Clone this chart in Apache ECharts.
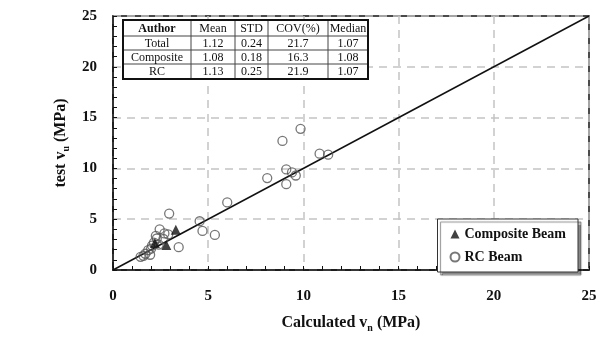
<!DOCTYPE html>
<html><head><meta charset="utf-8">
<script src="https://cdn.jsdelivr.net/npm/echarts@6/dist/echarts.min.js"></script>
<style>html,body{margin:0;padding:0;background:#fff}#c{width:604px;height:338px}</style>
</head><body><div id="c"></div>
<script>
var compositeBeam = [[3.3,3.95],[2.8,2.45],[2.2,2.65]];
var rcBeam = [[9.85,13.9],[8.9,12.7],[10.85,11.45],[11.3,11.35],[9.1,9.9],[9.4,9.6],[9.6,9.3],[8.1,9.05],[9.1,8.45],[6.0,6.65],[4.55,4.8],[4.7,3.85],[5.35,3.45],[2.95,5.55],[2.45,4.0],[2.9,3.5],[3.45,2.25],[2.3,3.1],[2.65,3.05],[2.05,2.4],[2.4,2.5],[1.85,1.95],[1.95,1.5],[1.45,1.3],[1.7,1.6],[2.15,2.7],[2.7,3.6],[2.25,3.35],[1.6,1.4],[2.0,2.1]];
var equalityLine = [[0,0],[25,25]];
var tableHeader = ['Author','Mean','STD','COV(%)','Median'];
var tableRows = [
  ['Total','1.12','0.24','21.7','1.07'],
  ['Composite','1.08','0.18','16.3','1.08'],
  ['RC','1.13','0.25','21.9','1.07']
];
var axisTicks = [0,5,10,15,20,25];

var FONT = '"Liberation Serif","Times New Roman",serif';
var colX = [123,191,235,268,328,368];
var rowY = [20,36,50,64,79];
var children = [];
children.push({type:'rect', shape:{x:colX[0],y:rowY[0],width:colX[5]-colX[0],height:rowY[4]-rowY[0]}, style:{fill:'#fff',stroke:'none'}, z:100});
for (var i=1;i<colX.length-1;i++) children.push({type:'line', shape:{x1:colX[i],y1:rowY[0],x2:colX[i],y2:rowY[4]}, style:{stroke:'#444',lineWidth:1}, z:101});
for (var j=1;j<rowY.length-1;j++) children.push({type:'line', shape:{x1:colX[0],y1:rowY[j],x2:colX[5],y2:rowY[j]}, style:{stroke:'#444',lineWidth:1}, z:101});
children.push({type:'rect', shape:{x:colX[0],y:rowY[0],width:colX[5]-colX[0],height:rowY[4]-rowY[0]}, style:{fill:'none',stroke:'#111',lineWidth:2}, z:102});
var allRows = [tableHeader].concat(tableRows);
allRows.forEach(function(row, r){
  row.forEach(function(txt, c){
    children.push({type:'text', z:103, style:{text:txt, x:(colX[c]+colX[c+1])/2, y:(rowY[r]+rowY[r+1])/2+0.5, textAlign:'center', textVerticalAlign:'middle', font:(r===0&&c===0?'bold ':'')+'12px '+FONT, fill:'#111'}});
  });
});

var chart = echarts.init(document.getElementById('c'));
chart.setOption({
  animation:false,
  backgroundColor:'#fff',
  grid:{left:113,right:15,top:16,bottom:63,show:true,borderColor:'#111',borderWidth:1.5,backgroundColor:'transparent'},
  xAxis:{type:'value',min:axisTicks[0],max:axisTicks[axisTicks.length-1],interval:5,
    name:'{a|Calculated v}{s|n}{a| (MPa)}',nameLocation:'middle',nameGap:43,
    nameTextStyle:{rich:{a:{fontFamily:FONT,fontWeight:'bold',fontSize:16,color:'#111',lineHeight:20},s:{fontFamily:FONT,fontWeight:'bold',fontSize:10,color:'#111',verticalAlign:'bottom',lineHeight:14,padding:[6,0,0,0]}}},
    axisLine:{lineStyle:{color:'#111',width:1.5}},
    axisTick:{inside:true,length:4,lineStyle:{color:'#111'}},
    minorTick:{show:true,splitNumber:5,length:4,lineStyle:{color:'#111'}},
    axisLabel:{fontFamily:FONT,fontWeight:'bold',fontSize:15,color:'#111',margin:19},
    splitLine:{show:true,lineStyle:{color:'#c4c4c4',type:[8,6],width:1.5}}},
  yAxis:{type:'value',min:axisTicks[0],max:axisTicks[axisTicks.length-1],interval:5,
    name:'{a|test v}{s|u}{a| (MPa)}',nameLocation:'middle',nameGap:41,
    nameTextStyle:{rich:{a:{fontFamily:FONT,fontWeight:'bold',fontSize:16,color:'#111',lineHeight:20},s:{fontFamily:FONT,fontWeight:'bold',fontSize:10,color:'#111',verticalAlign:'bottom',lineHeight:14,padding:[6,0,0,0]}}},
    axisLine:{lineStyle:{color:'#111',width:1.5}},
    axisTick:{inside:true,length:4,lineStyle:{color:'#111'}},
    minorTick:{show:true,splitNumber:5,length:4,lineStyle:{color:'#111'}},
    axisLabel:{fontFamily:FONT,fontWeight:'bold',fontSize:15,color:'#111',margin:16},
    splitLine:{show:true,lineStyle:{color:'#c4c4c4',type:[8,6],width:1.5}}},
  legend:{orient:'vertical',right:26,bottom:66,itemWidth:9,itemHeight:9,itemGap:9,
    padding:[8,12,8,12],backgroundColor:'#fff',borderColor:'#333',borderWidth:1,
    shadowColor:'rgba(0,0,0,0.45)',shadowOffsetX:3,shadowOffsetY:3,shadowBlur:1,
    textStyle:{fontFamily:FONT,fontWeight:'bold',fontSize:14,color:'#111'},
    data:[{name:'Composite Beam',icon:'triangle'},{name:'RC Beam',icon:'circle'}]},
  graphic:[{type:'group',children:children}],
  series:[
    {type:'line',data:equalityLine,showSymbol:false,symbol:'none',lineStyle:{color:'#111',width:1.5},z:3,silent:true},
    {name:'Composite Beam',type:'scatter',data:compositeBeam,symbol:'triangle',symbolSize:10,itemStyle:{color:'#111'},z:5},
    {name:'RC Beam',type:'scatter',data:rcBeam,symbol:'circle',symbolSize:9,itemStyle:{color:'rgba(255,255,255,0)',borderColor:'#555',borderWidth:1.3},z:4}
  ]
});
</script></body></html>
